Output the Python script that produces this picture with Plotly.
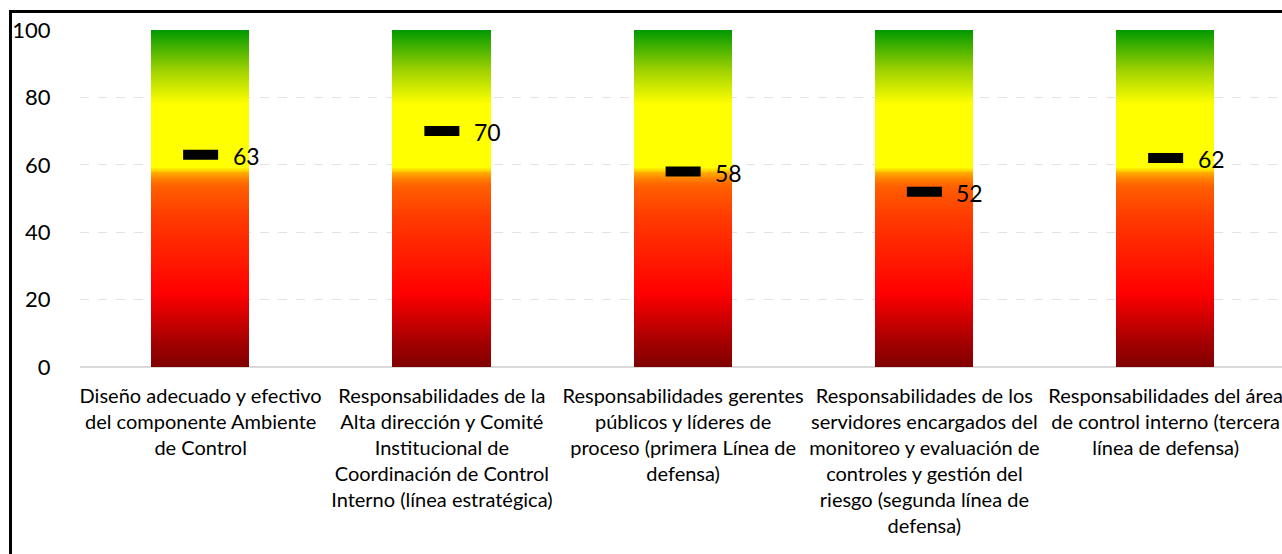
import numpy as np
import plotly.graph_objects as go

# Component labels (x axis) and their scores
categories = [
    "Diseño adecuado y efectivo<br>del componente Ambiente<br>de Control",
    "Responsabilidades de la<br>Alta dirección y Comité<br>Institucional de<br>Coordinación de Control<br>Interno (línea estratégica)",
    "Responsabilidades gerentes<br>públicos y líderes de<br>proceso (primera Línea de<br>defensa)",
    "Responsabilidades de los<br>servidores encargados del<br>monitoreo y evaluación de<br>controles y gestión del<br>riesgo (segunda línea de<br>defensa)",
    "Responsabilidades del área<br>de control interno (tercera<br>línea de defensa)",
]
scores = [63, 70, 58, 52, 62]

# Scale shown behind every score: 0 to 100
scale_max = 100
y_ticks = [0, 20, 40, 60, 80, 100]

# Traffic-light gradient used for the scale columns
gradient = [
    [0.00, "#7f0000"],
    [0.08, "#a80000"],
    [0.22, "#ff0000"],
    [0.45, "#ff3c00"],
    [0.535, "#ff5e00"],
    [0.555, "#ff7a00"],
    [0.575, "#ffa800"],
    [0.592, "#ffff00"],
    [0.78, "#ffff00"],
    [0.88, "#9fd200"],
    [1.00, "#009900"],
]

FONT = "Lato, Calibri, sans-serif"

x_idx = list(range(len(categories)))
levels = np.linspace(0, scale_max, 401)
level_centers = (levels[:-1] + levels[1:]) / 2
z = np.tile(level_centers[:, None], (1, len(categories)))

fig = go.Figure()

# Gradient scale columns
fig.add_trace(go.Heatmap(
    x=x_idx,
    y=level_centers,
    z=z,
    zmin=0, zmax=scale_max,
    colorscale=gradient,
    showscale=False,
    xgap=143,
    ygap=0,
    hoverinfo="skip",
))

# Score markers
fig.add_trace(go.Scatter(
    x=x_idx,
    y=scores,
    mode="markers",
    marker=dict(symbol="line-ew", size=25, line=dict(color="black", width=10)),
    hoverinfo="skip",
))

# Score labels
for i, s in enumerate(scores):
    fig.add_annotation(
        x=i, y=s, text=str(s), showarrow=False,
        xanchor="left", yanchor="middle", xshift=30, yshift=-1,
        font=dict(family=FONT, size=23, color="black"),
    )

# Outer frame (top and left edges of the chart area)
plot_w = 1282 - 80
plot_h = 554 - 30 - 187
def px(xp):
    return (xp - 80) / plot_w
def py(yp):
    return (367 - yp) / plot_h
fig.add_shape(type="line", xref="paper", yref="paper",
              x0=px(10.5), x1=px(1300), y0=py(11.5), y1=py(11.5),
              line=dict(color="black", width=3))
fig.add_shape(type="line", xref="paper", yref="paper",
              x0=px(10.5), x1=px(10.5), y0=py(10), y1=py(600),
              line=dict(color="black", width=3))

fig.update_layout(
    width=1282, height=554,
    margin=dict(l=80, r=0, t=30, b=187),
    paper_bgcolor="white", plot_bgcolor="white",
    showlegend=False,
    font=dict(family=FONT, color="black"),
    xaxis=dict(
        range=[-0.5, -0.5 + plot_w / 241.25],
        tickmode="array", tickvals=x_idx, ticktext=categories,
        tickangle=0,
        tickfont=dict(size=20, family=FONT),
        ticklabeloverflow="allow",
        showgrid=False, zeroline=False,
        showline=False,
        ticks="outside", ticklen=11, tickcolor="rgba(0,0,0,0)",
    ),
    yaxis=dict(
        range=[0, scale_max],
        tickvals=y_ticks,
        tickfont=dict(size=22, family=FONT),
        showgrid=True, gridcolor="#e3e3e3", griddash="dash", gridwidth=1,
        zeroline=True, zerolinecolor="#d9d9d9", zerolinewidth=2,
        showline=False,
        ticks="outside", ticklen=24, tickcolor="rgba(0,0,0,0)",
    ),
)

fig.write_html("out.html")
